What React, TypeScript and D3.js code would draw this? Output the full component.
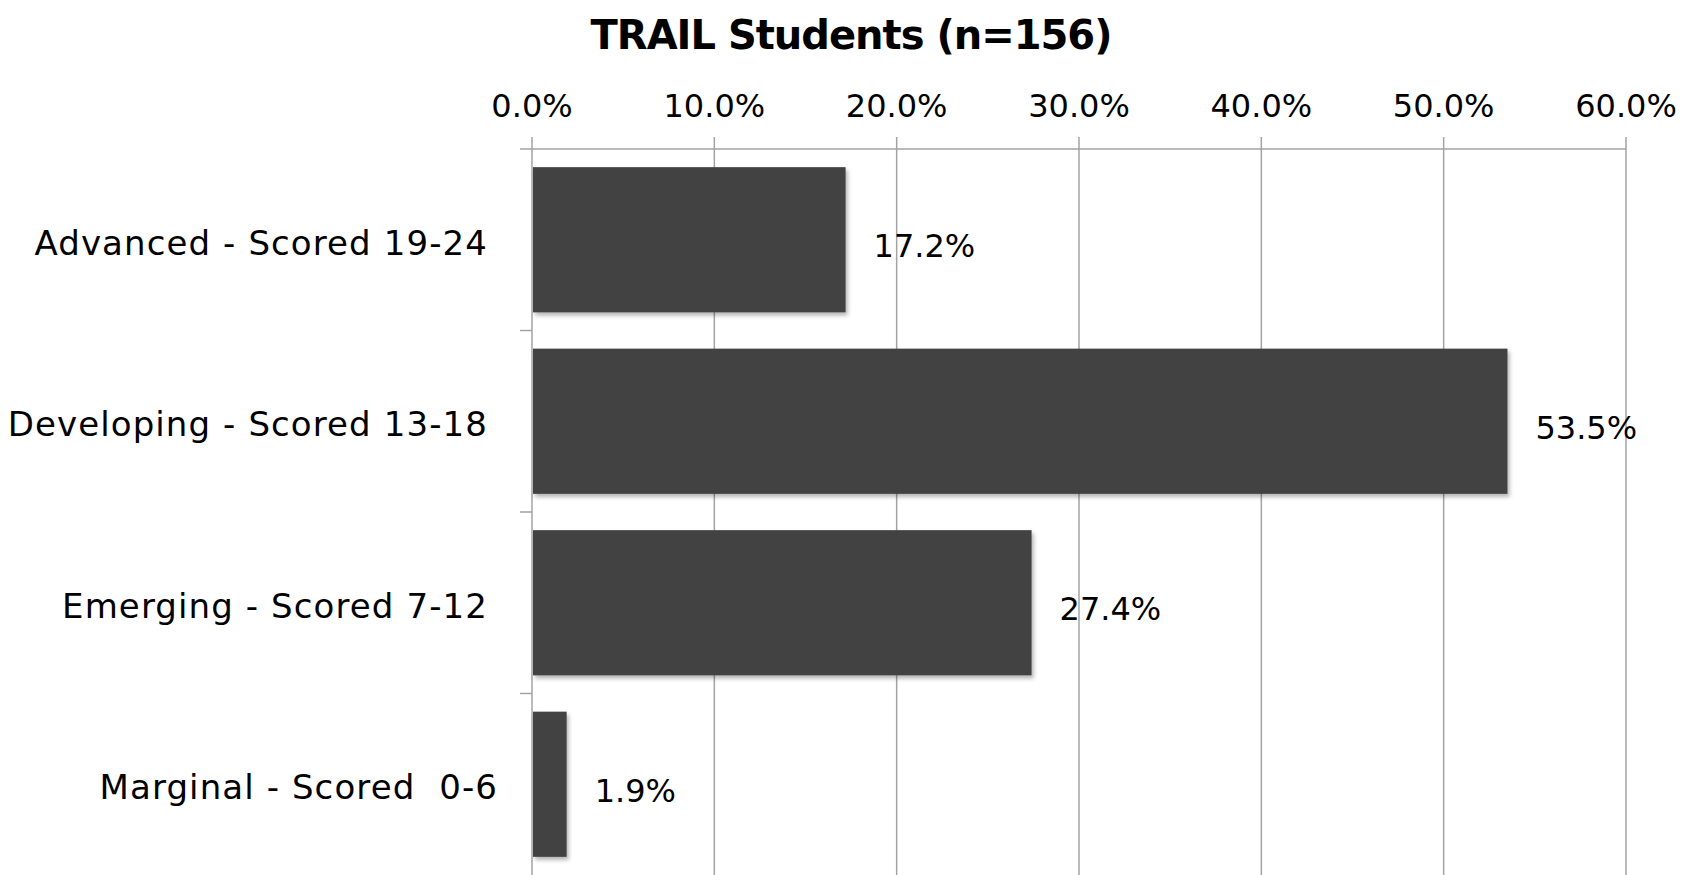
import { useEffect, useRef } from 'react'
import * as d3 from 'd3'

const WIDTH = 1696
const HEIGHT = 875
const MARGIN = { top: 149, right: 70, bottom: 0, left: 532 }

const categories = [
  'Advanced - Scored 19-24',
  'Developing - Scored 13-18',
  'Emerging - Scored 7-12',
  'Marginal - Scored  0-6',
]
const percents = [17.2, 53.5, 27.4, 1.9]
const xTicks = [0, 10, 20, 30, 40, 50, 60]

const FONT = '"DejaVu Sans", sans-serif'

export default function App() {
  const svgRef = useRef<SVGSVGElement>(null)

  useEffect(() => {
    if (!svgRef.current) return
    const svg = d3.select(svgRef.current)
    svg.selectAll('*').remove()

    const innerW = 1626 - MARGIN.left
    const innerH = HEIGHT - MARGIN.top - MARGIN.bottom

    const x = d3.scaleLinear().domain([0, 60]).range([0, innerW])
    const y = d3.scaleBand<string>()
      .domain(categories)
      .range([0, innerH])
      .paddingInner(0.2)
      .paddingOuter(0.1)

    const defs = svg.append('defs')
    const f = defs.append('filter').attr('id', 'shadow')
      .attr('x', '-5%').attr('y', '-5%').attr('width', '120%').attr('height', '120%')
    f.append('feDropShadow')
      .attr('dx', 2).attr('dy', 3).attr('stdDeviation', 2)
      .attr('flood-color', '#000').attr('flood-opacity', 0.3)

    // title
    svg.append('text')
      .attr('x', 851)
      .attr('y', 49)
      .attr('text-anchor', 'middle')
      .attr('font-family', FONT)
      .attr('font-weight', 'bold')
      .attr('font-size', 40)
      .attr('letter-spacing', -1)
      .attr('fill', '#000')
      .text('TRAIL Students (n=156)')

    const g = svg.append('g').attr('transform', `translate(${MARGIN.left},${MARGIN.top})`)

    // vertical gridlines + top ticks
    g.selectAll('line.grid')
      .data(xTicks)
      .enter()
      .append('line')
      .attr('class', 'grid')
      .attr('x1', d => x(d))
      .attr('x2', d => x(d))
      .attr('y1', -12)
      .attr('y2', innerH)
      .attr('stroke', '#a3a3a3')
      .attr('stroke-width', 1.5)

    // top axis line
    g.append('line')
      .attr('x1', -12)
      .attr('x2', x(60))
      .attr('y1', 0)
      .attr('y2', 0)
      .attr('stroke', '#a3a3a3')
      .attr('stroke-width', 1.5)

    // category boundary ticks on the left
    const step = y.step()
    const boundaries = d3.range(1, categories.length).map(i => i * step)
    g.selectAll('line.ctick')
      .data(boundaries)
      .enter()
      .append('line')
      .attr('class', 'ctick')
      .attr('x1', -12)
      .attr('x2', 0)
      .attr('y1', d => d)
      .attr('y2', d => d)
      .attr('stroke', '#a3a3a3')
      .attr('stroke-width', 1.5)

    // tick labels
    g.selectAll('text.xt')
      .data(xTicks)
      .enter()
      .append('text')
      .attr('class', 'xt')
      .attr('x', d => x(d))
      .attr('y', -32)
      .attr('text-anchor', 'middle')
      .attr('font-family', FONT)
      .attr('font-size', 32)
      .attr('fill', '#000')
      .text(d => d3.format('.1f')(d) + '%')

    // bars
    g.selectAll('rect.bar')
      .data(percents)
      .enter()
      .append('rect')
      .attr('class', 'bar')
      .attr('x', 1)
      .attr('y', (_, i) => y(categories[i])!)
      .attr('width', d => x(d) - 1)
      .attr('height', y.bandwidth())
      .attr('fill', '#434343')
      .attr('filter', 'url(#shadow)')

    // category labels
    g.selectAll('text.cat')
      .data(categories)
      .enter()
      .append('text')
      .attr('class', 'cat')
      .attr('x', d => (d.startsWith('Marginal') ? -34 : -44))
      .attr('y', d => y(d)! + y.bandwidth() / 2 + 3)
      .attr('dy', '0.36em')
      .attr('text-anchor', 'end')
      .attr('font-family', FONT)
      .attr('font-size', 34)
      .attr('letter-spacing', 1.1)
      .attr('fill', '#000')
      .style('white-space', 'pre')
      .text(d => d)

    // value labels
    g.selectAll('text.val')
      .data(percents)
      .enter()
      .append('text')
      .attr('class', 'val')
      .attr('x', d => x(d) + 28)
      .attr('y', (_, i) => y(categories[i])! + y.bandwidth() / 2 + 6)
      .attr('dy', '0.36em')
      .attr('font-family', FONT)
      .attr('font-size', 32)
      .attr('fill', '#000')
      .text(d => d.toFixed(1) + '%')
  }, [])

  return (
    <svg
      ref={svgRef}
      width={WIDTH}
      height={HEIGHT}
      style={{ position: 'absolute', left: 0, top: 0, background: '#fff', display: 'block' }}
    />
  )
}
